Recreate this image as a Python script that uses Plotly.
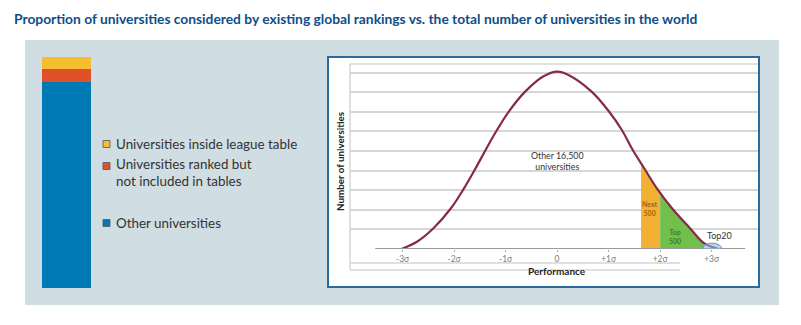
import plotly.graph_objects as go

W, H = 801, 325

# ---------------- data ----------------
bar_category = ["All universities"]
other_univ = [16500]
ranked_not_in_tables = [1000]
inside_league_table = [1000]

legend_labels = ["Universities inside league table",
                 "Universities ranked but<br>not included in tables",
                 "Other universities"]

# bell curve (x in sigma, y in gridline units)
perf_sigma = [-3.02, -2.72, -2.40, -2.06, -1.81, -1.59, -1.38, -1.17, -0.93, -0.62,
              -0.27, 0.0, 0.22, 0.67, 1.00, 1.26, 1.46, 1.70, 1.94, 2.23, 2.58, 2.85, 3.13]
count_units = [0.0, 0.37, 1.06, 2.08, 3.08, 4.08, 5.09, 6.06, 7.04, 8.03,
               8.80, 9.05, 8.88, 8.03, 7.04, 6.06, 5.09, 4.08, 3.08, 2.08, 1.06, 0.30, 0.0]

next500_sigma = [1.63, 1.70, 1.94, 2.0]
next500_units = [4.29, 4.08, 3.08, 2.92]
top500_sigma = [2.0, 2.23, 2.58, 2.85]
top500_units = [2.92, 2.08, 1.06, 0.30]

tick_sigma = [-3, -2, -1, 0, 1, 2, 3]
tick_labels = ["-3σ", "-2σ", "-1σ", "0", "+1σ", "+2σ", "+3σ"]

# ---------------- helpers ----------------
def px(x):
    return x / W

def py(y):
    return (H - y) / H

BLUE = "#007ab5"
RED = "#e0502a"
YELLOW = "#f6bd2f"
FONT = "Lato"

fig = go.Figure()

# stacked bar (left)
fig.add_trace(go.Bar(x=bar_category, y=other_univ, marker=dict(color=BLUE, line_width=0),
                     xaxis="x2", yaxis="y2", showlegend=False))
fig.add_trace(go.Bar(x=bar_category, y=ranked_not_in_tables, marker=dict(color=RED, line_width=0),
                     xaxis="x2", yaxis="y2", showlegend=False))
fig.add_trace(go.Bar(x=bar_category, y=inside_league_table, marker=dict(color=YELLOW, line_width=0),
                     xaxis="x2", yaxis="y2", showlegend=False))

# fills under curve
fig.add_trace(go.Scatter(x=next500_sigma, y=next500_units, mode="lines", fill="tozeroy",
                         line=dict(width=0, shape="spline"), fillcolor="#f2b134",
                         showlegend=False, hoverinfo="skip"))
fig.add_trace(go.Scatter(x=top500_sigma, y=top500_units, mode="lines", fill="tozeroy",
                         line=dict(width=0, shape="spline"), fillcolor="#72c04b",
                         showlegend=False, hoverinfo="skip"))
# bell curve
fig.add_trace(go.Scatter(x=perf_sigma, y=count_units, mode="lines",
                         line=dict(color="#862a4b", width=2.2, shape="spline", smoothing=1.0),
                         showlegend=False))

total = other_univ[0] + ranked_not_in_tables[0] + inside_league_table[0]

shapes = [
    # grey panel
    dict(type="rect", xref="paper", yref="paper", x0=px(25), x1=px(779), y0=py(305), y1=py(40),
         fillcolor="#d0dde2", line_width=0, layer="below"),
    # white box with blue border
    dict(type="rect", xref="paper", yref="paper", x0=px(328), x1=px(759), y0=py(287), y1=py(57),
         fillcolor="white", line=dict(color="#2a6a9e", width=2), layer="below"),
    # frame lines of inner chart
    dict(type="line", xref="paper", yref="paper", x0=px(350), x1=px(758), y0=py(64), y1=py(64),
         line=dict(color="#d6d6d6", width=1.5), layer="below"),
    dict(type="line", xref="paper", yref="paper", x0=px(350), x1=px(350), y0=py(270), y1=py(64),
         line=dict(color="#d6d6d6", width=1.5), layer="below"),
    dict(type="line", xref="paper", yref="paper", x0=px(350), x1=px(680), y0=py(263), y1=py(263),
         line=dict(color="#d6d6d6", width=1.5), layer="below"),
    dict(type="line", xref="paper", yref="paper", x0=px(350), x1=px(680), y0=py(270), y1=py(270),
         line=dict(color="#d6d6d6", width=1.5), layer="below"),
    # visible baseline axis
    dict(type="line", xref="x", yref="y", x0=-3.53, x1=3.65, y0=0, y1=0,
         line=dict(color="#9a9a9a", width=2), layer="above"),
    # Top20 highlight ellipse
    dict(type="circle", xref="x", yref="y", x0=2.82, x1=3.2, y0=-0.3, y1=0.3,
         fillcolor="rgba(140,180,220,0.6)", line=dict(color="#6f98c4", width=1), layer="above"),
]

# legend keys
legend_y = [144, 172.5, 223]
legend_key_y = [144, 166, 223]
legend_cols = [YELLOW, RED, BLUE]
for yy, c in zip(legend_key_y, legend_cols):
    shapes.append(dict(type="rect", xref="paper", yref="paper", x0=px(103), x1=px(110),
                       y0=py(yy + 3.5), y1=py(yy - 3.5), fillcolor=c,
                       line=dict(color="#555555", width=0.8)))

annotations = [
    dict(text="<b>Proportion of universities considered by existing global rankings vs. the total number of universities in the world</b>",
         x=px(12), y=py(19), xref="paper", yref="paper", xanchor="left", yanchor="middle",
         showarrow=False, font=dict(family=FONT, size=13.8, color="#0d4e8a")),
    dict(text="<b>Number of universities</b>", x=px(340), y=py(162), xref="paper", yref="paper",
         textangle=-90, showarrow=False, font=dict(family=FONT, size=9.8, color="#222")),
    dict(text="<b>Performance</b>", x=0, y=py(279), xref="x", yref="paper",
         showarrow=False, font=dict(family=FONT, size=10, color="#222")),
    dict(text="Other 16,500<br>universities", x=0, y=4.5, xref="x", yref="y",
         showarrow=False, font=dict(family=FONT, size=8.8, color="#333")),
    dict(text="<b>Next<br>500</b>", x=1.81, y=2.05, xref="x", yref="y",
         showarrow=False, font=dict(family=FONT, size=7, color="#a8600a")),
    dict(text="<b>Top<br>500</b>", x=2.29, y=0.62, xref="x", yref="y",
         showarrow=False, font=dict(family=FONT, size=7, color="#3a7d2c")),
    dict(text="Top20", x=3.15, y=0.7, xref="x", yref="y",
         showarrow=False, font=dict(family=FONT, size=9, color="#333")),
]
for t, yy in zip(legend_labels, legend_y):
    annotations.append(dict(text=t, x=px(114), y=py(yy), xref="paper", yref="paper",
                            xanchor="left", yanchor="middle", align="left", showarrow=False,
                            font=dict(family=FONT, size=13.4, color="#333")))

fig.update_layout(
    width=W, height=H, margin=dict(l=0, r=0, t=0, b=0),
    paper_bgcolor="white", plot_bgcolor="rgba(0,0,0,0)",
    barmode="stack", bargap=0,
    showlegend=False,
    xaxis=dict(domain=[px(350), px(758)], range=[-4.02, 3.90], showgrid=False, zeroline=False,
               tickvals=tick_sigma, ticktext=tick_labels, ticks="outside", ticklen=2,
               tickcolor="#aaaaaa", tickfont=dict(family=FONT, size=8.5, color="#808080"),
               showline=False, fixedrange=True),
    yaxis=dict(domain=[py(249), py(64)], range=[0, 9.44], tickvals=[1, 2, 3, 4, 5, 6, 7, 8, 9],
               showticklabels=False, showgrid=True, gridcolor="#d6d6d6", gridwidth=1.5,
               zeroline=False, showline=False, ticks=""),
    xaxis2=dict(domain=[px(42), px(91)], visible=False, anchor="y2"),
    yaxis2=dict(domain=[py(288), py(57)], range=[0, total], visible=False, anchor="x2"),
    shapes=shapes, annotations=annotations,
)

fig.write_html("out.html")
